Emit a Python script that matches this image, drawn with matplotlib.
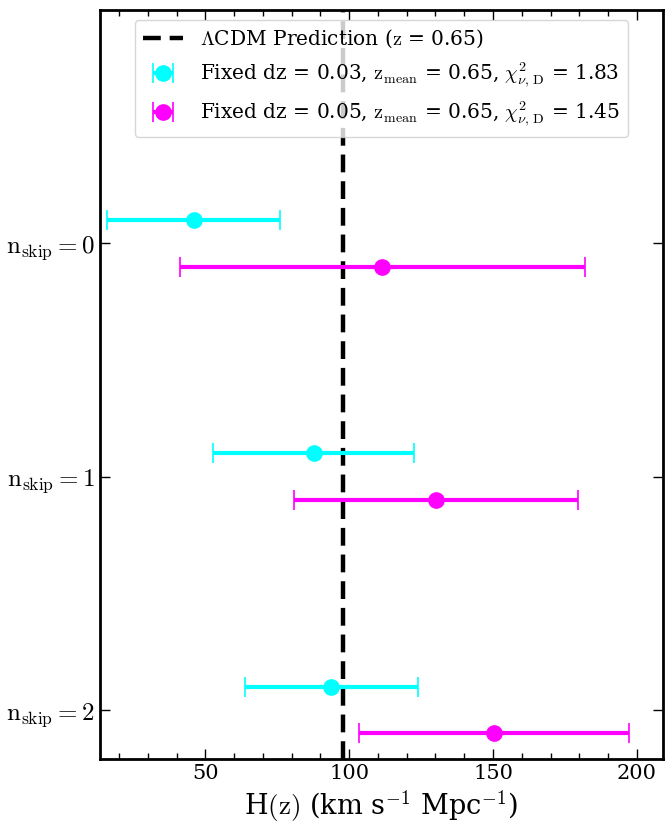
import numpy as np
import matplotlib
matplotlib.use('Agg')
import matplotlib.pyplot as plt
from matplotlib.ticker import MultipleLocator

plt.rcParams['font.family'] = 'DejaVu Serif'
plt.rcParams['mathtext.fontset'] = 'cm'

# H(z) measurements for each n_skip, two redshift-bin widths
nskip = np.array([0, 1, 2])
H_dz03 = np.array([45.9, 87.7, 93.8])
err_dz03 = np.array([30.2, 34.9, 30.1])
H_dz05 = np.array([111.5, 130.1, 150.3])
err_dz05 = np.array([70.4, 49.4, 47.0])
H_lcdm = 97.8

ytick_labels = [r'$\mathrm{n_{skip}} = %d$' % n for n in nskip]

fig = plt.figure(figsize=(6.65, 8.25), dpi=100)
ax = fig.add_axes([0.150, 0.080, 0.847, 0.908])

ax.axvline(H_lcdm, color='black', ls='--', lw=3.2, dashes=(4, 2),
           label=r'$\Lambda$CDM Prediction ($\mathrm{z}$ = 0.65)', zorder=1)

ax.errorbar(H_dz03, nskip - 0.1, xerr=err_dz03, fmt='o', color='cyan',
            ms=11, elinewidth=3, capsize=7, capthick=1.2,
            label=r'Fixed dz = 0.03, $\mathrm{z_{mean}}$ = 0.65, $\chi^2_{\nu,\,\mathrm{D}}$ = 1.83')
ax.errorbar(H_dz05, nskip + 0.1, xerr=err_dz05, fmt='o', color='magenta',
            ms=11, elinewidth=3, capsize=7, capthick=1.2,
            label=r'Fixed dz = 0.05, $\mathrm{z_{mean}}$ = 0.65, $\chi^2_{\nu,\,\mathrm{D}}$ = 1.45')

ax.set_xlim(13.3, 209.1)
ax.set_ylim(2.21, -1.0)
ax.set_yticks(nskip)
ax.set_yticklabels(ytick_labels, fontsize=18)
ax.xaxis.set_major_locator(MultipleLocator(50))
ax.xaxis.set_minor_locator(MultipleLocator(10))
ax.tick_params(axis='both', which='both', direction='in', top=True, right=True)
ax.tick_params(axis='y', which='major', length=7, width=1)
ax.tick_params(axis='x', which='major', length=7, width=1, labelsize=15)
ax.tick_params(axis='x', which='minor', length=4, width=1)
for s in ax.spines.values():
    s.set_linewidth(2)

ax.set_xlabel(r'H$(\mathrm{z})$ (km s$^{-1}$ Mpc$^{-1}$)', fontsize=19.5)
ax.legend(loc='upper center', fontsize=14.5)

fig.savefig('out.png', dpi=100)
